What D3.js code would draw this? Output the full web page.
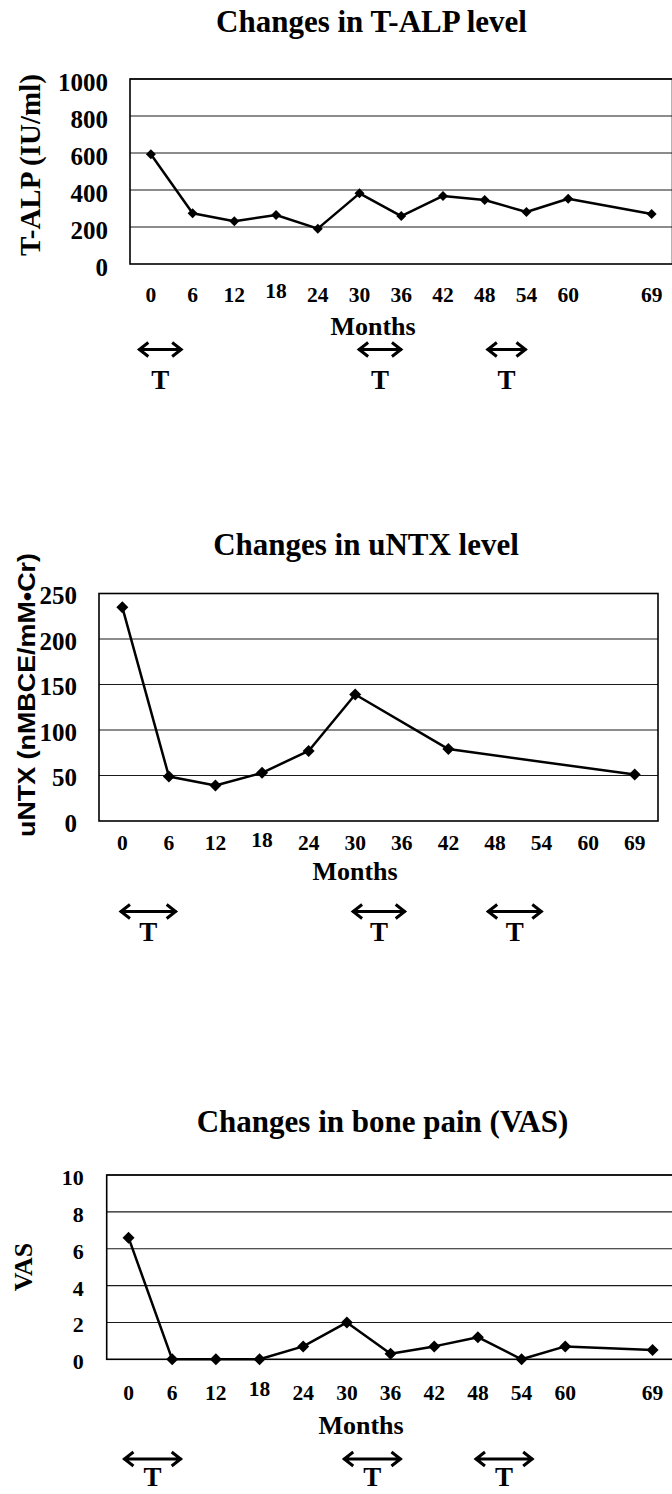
<!DOCTYPE html>
<html>
<head>
<meta charset="utf-8">
<script src="https://cdnjs.cloudflare.com/ajax/libs/d3/7.8.5/d3.min.js"></script>
<style>
  body { margin: 0; background: #fff; }
  svg { display: block; }
  text { font-family: "Liberation Serif", "Times New Roman", serif; font-weight: bold; fill: #000; }
</style>
</head>
<body>
<div id="chart"></div>
<script>
// category slots on the x axis (two charts keep an empty slot before 69)
var slotsGap = ["0", "6", "12", "18", "24", "30", "36", "42", "48", "54", "60", "", "69"];
var slotsNoGap = ["0", "6", "12", "18", "24", "30", "36", "42", "48", "54", "60", "69"];

var talpMonths = [0, 6, 12, 18, 24, 30, 36, 42, 48, 54, 60, 69];
var talpValues = [593, 274, 231, 265, 191, 382, 259, 368, 346, 281, 353, 270];
var talpTicks = [0, 200, 400, 600, 800, 1000];

var untxMonths = [0, 6, 12, 18, 24, 30, 42, 69];
var untxValues = [235, 49, 39, 53, 77, 139, 79, 51];
var untxTicks = [0, 50, 100, 150, 200, 250];

var vasMonths = [0, 6, 12, 18, 24, 30, 36, 42, 48, 54, 60, 69];
var vasValues = [6.6, 0, 0, 0, 0.7, 2.0, 0.3, 0.7, 1.2, 0, 0.7, 0.5];
var vasTicks = [0, 2, 4, 6, 8, 10];

// treatment periods "T" (months) as drawn under each chart
var talpPeriods = [[-1.8, 4.5], [29.8, 36.1], [48.3, 54]];
var untxPeriods = [[-0.3, 7], [29.6, 36.5], [47, 54.1]];
var vasPeriods = [[-0.7, 7.3], [29.5, 37.5], [47.6, 55.6]];

var serif = "'Liberation Serif', 'Times New Roman', serif";

var svg = d3.select("#chart")
  .append("svg")
  .attr("width", 672)
  .attr("height", 1494);

function drawChart(c) {
  var g = svg.append("g");

  var x = d3.scaleBand().domain(c.slots).range([c.left, c.right]);
  var y = d3.scaleLinear().domain([0, d3.max(c.ticks)]).range([c.bottom, c.top]);
  var cx = function(m) { return x(String(m)) + x.bandwidth() / 2; };
  // continuous month scale for the treatment arrows
  var xm = d3.scaleLinear().domain([0, 6]).range([cx(0), cx(6)]);

  // horizontal gridlines
  g.append("g")
    .selectAll("line")
    .data(c.ticks.slice(1))
    .enter()
    .append("line")
    .attr("x1", c.left)
    .attr("x2", c.right)
    .attr("y1", d => y(d))
    .attr("y2", d => y(d))
    .attr("stroke", "#1a1a1a")
    .attr("stroke-width", 1.1);

  // plot frame
  g.append("rect")
    .attr("x", c.left)
    .attr("y", c.top)
    .attr("width", c.right - c.left)
    .attr("height", c.bottom - c.top)
    .attr("fill", "none")
    .attr("stroke", "#000")
    .attr("stroke-width", 1.6);

  // y axis labels
  var yAxis = g.append("g")
    .attr("transform", `translate(${c.left},0)`)
    .call(d3.axisLeft(y).tickValues(c.ticks).tickFormat(d3.format("d"))
      .tickSize(0).tickPadding(c.yPad));
  yAxis.attr("font-family", null).attr("font-size", null);
  yAxis.select(".domain").remove();
  yAxis.selectAll("text")
    .attr("dy", c.yDy)
    .style("font-family", serif)
    .style("font-weight", "bold")
    .style("font-size", c.yFont + "px");

  // x axis labels
  var xAxis = g.append("g")
    .attr("transform", `translate(0,${c.bottom})`)
    .call(d3.axisBottom(x).tickSize(0));
  xAxis.attr("font-family", null).attr("font-size", null);
  xAxis.select(".domain").remove();
  xAxis.selectAll("text")
    .attr("y", c.xLabelY - c.bottom)
    .attr("dy", d => d === "18" ? -3.5 : 0)
    .style("font-family", serif)
    .style("font-weight", "bold")
    .style("font-size", "21.5px");

  // the series line
  var line = d3.line()
    .x(d => cx(d[0]))
    .y(d => y(d[1]));
  var pts = c.months.map((m, i) => [m, c.values[i]]);

  g.append("path")
    .datum(pts)
    .attr("d", line)
    .attr("fill", "none")
    .attr("stroke", "#000")
    .attr("stroke-width", 2.5)
    .attr("stroke-linejoin", "round");

  g.append("g")
    .selectAll("path")
    .data(pts)
    .enter()
    .append("path")
    .attr("d", d3.symbol().type(d3.symbolSquare).size(c.marker))
    .attr("transform", d => `translate(${cx(d[0])},${y(d[1])}) rotate(45)`)
    .attr("fill", "#000");

  // titles
  g.append("text")
    .attr("x", c.titleX)
    .attr("y", c.titleY)
    .attr("text-anchor", "middle")
    .style("font-size", "31px")
    .text(c.title);

  var yt = g.append("text")
    .attr("transform", `translate(${c.yTitleX},${c.yTitleY}) rotate(-90)`)
    .attr("text-anchor", "middle")
    .style("font-size", c.yTitleFont + "px")
    .text(c.yTitle);
  if (c.yTitleSans) {
    yt.style("font-family", "'Liberation Sans', Arial, sans-serif")
      .attr("textLength", c.yTitleLen)
      .attr("lengthAdjust", "spacingAndGlyphs");
  }

  g.append("text")
    .attr("x", c.monthsX)
    .attr("y", c.monthsY)
    .attr("text-anchor", "middle")
    .style("font-size", "26px")
    .text("Months");

  // treatment arrows with T under them
  var arrows = g.append("g")
    .selectAll("g")
    .data(c.periods)
    .enter()
    .append("g");

  arrows.append("path")
    .attr("d", function(d) {
      var x1 = xm(d[0]), x2 = xm(d[1]), ay = c.arrowY;
      return `M${x1},${ay}L${x2},${ay}` +
        `M${x1 + 10},${ay - 7}L${x1 + 1},${ay}L${x1 + 10},${ay + 7}` +
        `M${x2 - 10},${ay - 7}L${x2 - 1},${ay}L${x2 - 10},${ay + 7}`;
    })
    .attr("fill", "none")
    .attr("stroke", "#000")
    .attr("stroke-width", 3);

  arrows.append("text")
    .attr("x", d => (xm(d[0]) + xm(d[1])) / 2)
    .attr("y", c.tY)
    .attr("text-anchor", "middle")
    .style("font-size", "27px")
    .text("T");
}

drawChart({
  title: "Changes in T-ALP level", titleX: 371.5, titleY: 32,
  yTitle: "T-ALP (IU/ml)", yTitleX: 40, yTitleY: 165, yTitleFont: 29,
  slots: slotsGap, months: talpMonths, values: talpValues, ticks: talpTicks,
  periods: talpPeriods,
  left: 130, right: 672.5, top: 79, bottom: 264,
  yPad: 22, yDy: 11, yFont: 25, xLabelY: 301.5,
  monthsX: 373, monthsY: 335, arrowY: 349.5, tY: 389, marker: 50
});

drawChart({
  title: "Changes in uNTX level", titleX: 366, titleY: 555,
  yTitle: "uNTX (nMBCE/mM\u2022Cr)", yTitleX: 35, yTitleY: 695, yTitleFont: 24,
  yTitleSans: true, yTitleLen: 284,
  slots: slotsNoGap, months: untxMonths, values: untxValues, ticks: untxTicks,
  periods: untxPeriods,
  left: 99, right: 658, top: 593.5, bottom: 821,
  yPad: 22, yDy: 10, yFont: 25, xLabelY: 850,
  monthsX: 355, monthsY: 880, arrowY: 911.5, tY: 940.5, marker: 72
});

drawChart({
  title: "Changes in bone pain (VAS)", titleX: 382.5, titleY: 1131.5,
  yTitle: "VAS", yTitleX: 31.5, yTitleY: 1267, yTitleFont: 26,
  slots: slotsGap, months: vasMonths, values: vasValues, ticks: vasTicks,
  periods: vasPeriods,
  left: 106.7, right: 674.4, top: 1175, bottom: 1359.3,
  yPad: 23, yDy: 9.5, yFont: 22, xLabelY: 1400,
  monthsX: 361, monthsY: 1433.5, arrowY: 1459, tY: 1486, marker: 72
});
</script>
</body>
</html>
